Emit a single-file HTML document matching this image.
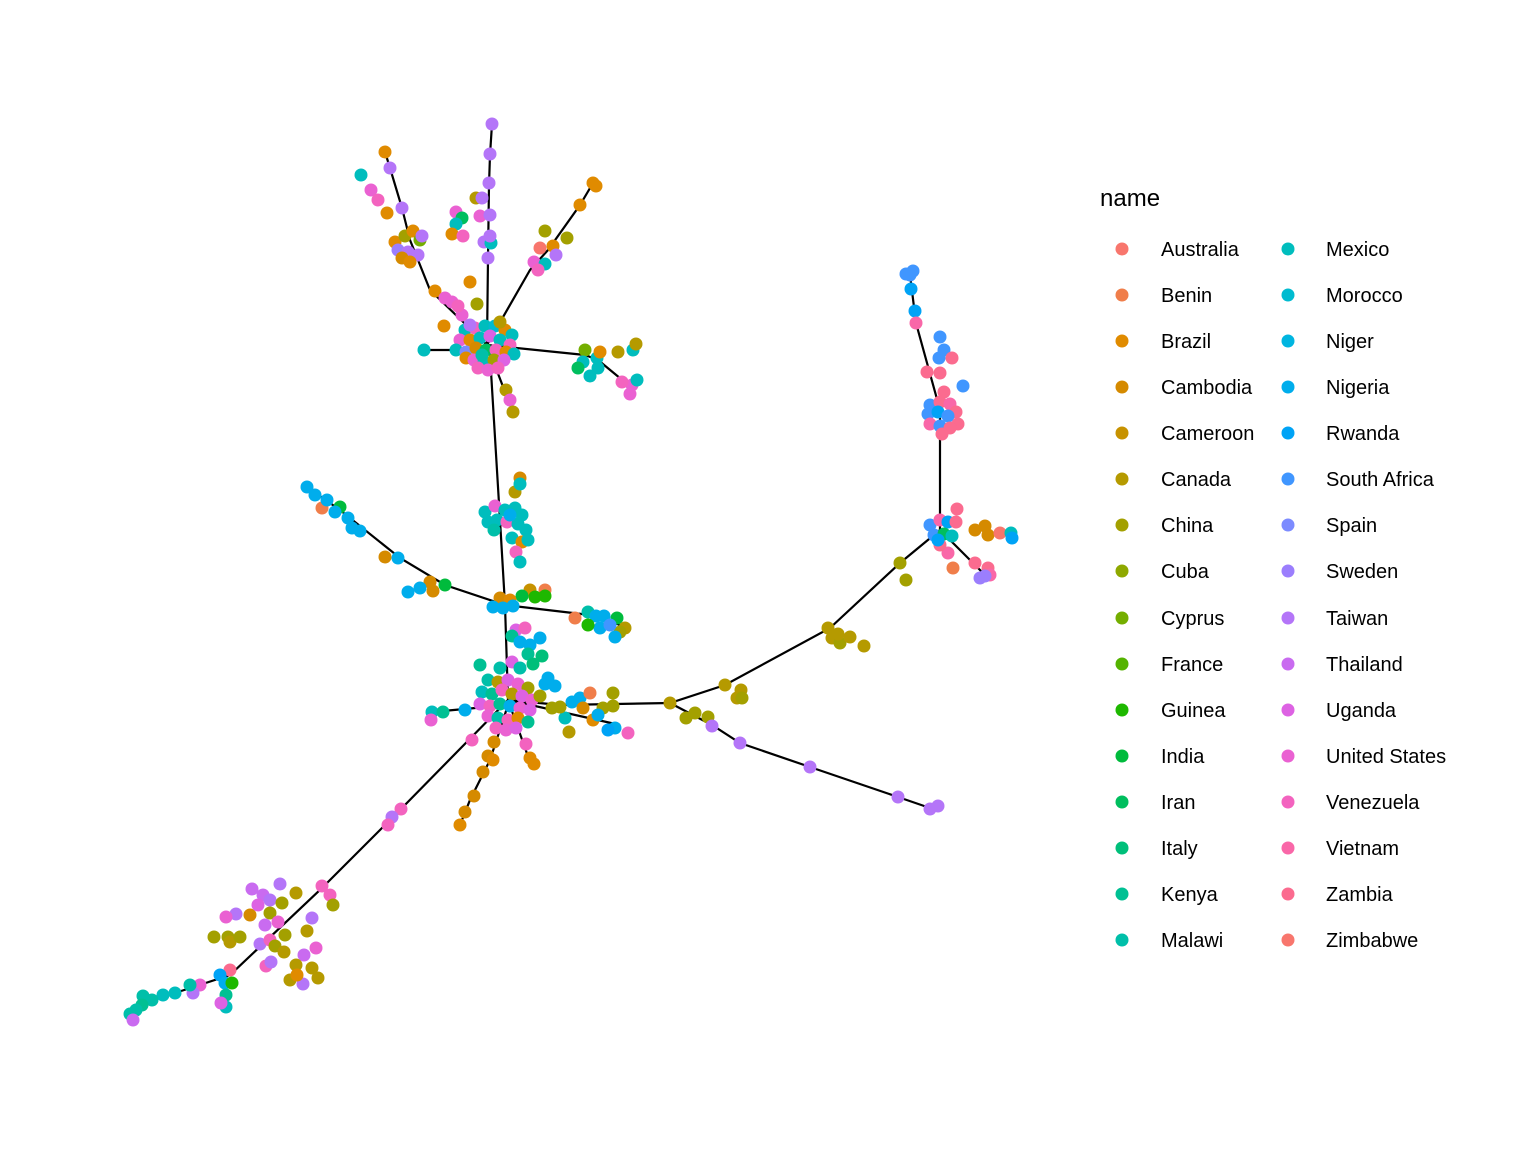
<!DOCTYPE html>
<html><head><meta charset="utf-8"><style>
html,body{margin:0;padding:0;background:#fff;}
svg{display:block;}
text{font-family:"Liberation Sans",Arial,sans-serif;}
.c0{fill:#F8766D}.c1{fill:#F07E4A}.c2{fill:#E08B00}.c3{fill:#D58A00}.c4{fill:#C79200}.c5{fill:#B59A00}.c6{fill:#A3A000}.c7{fill:#8EA800}.c8{fill:#74AE00}.c9{fill:#54B300}.c10{fill:#1EB800}.c11{fill:#00BB3C}.c12{fill:#00BE5E}.c13{fill:#00BF7A}.c14{fill:#00C093}.c15{fill:#00BFA9}.c16{fill:#00BDBD}.c17{fill:#00BBD0}.c18{fill:#00B5E0}.c19{fill:#00ADEC}.c20{fill:#00A3F6}.c21{fill:#4096FF}.c22{fill:#7C8BFF}.c23{fill:#9B7EFD}.c24{fill:#B475F8}.c25{fill:#C96BF0}.c26{fill:#DD62E3}.c27{fill:#EA61D2}.c28{fill:#F363BF}.c29{fill:#F967A8}.c30{fill:#FB6B8F}.c31{fill:#F8766D}
</style></head><body>
<svg width="1536" height="1152" viewBox="0 0 1536 1152" xmlns="http://www.w3.org/2000/svg">
<rect width="1536" height="1152" fill="#fff"/>
<g stroke="#000" stroke-width="2.2" fill="none">
<polyline points="492,124 490,155 489,185 488,258 487,345"/>
<polyline points="385,152 390,168 402,208 410,240 430,290 487,345"/>
<polyline points="593,183 580,205 548,250 530,270 487,345"/>
<polyline points="632,388 598,360 585,355 487,345"/>
<line x1="424" y1="350" x2="487" y2="350"/>
<line x1="487" y1="345" x2="512" y2="410"/>
<polyline points="490,355 500,520 505,605 508,700"/>
<polyline points="307,487 340,510 400,558 445,585 505,605 590,615 620,625"/>
<polyline points="508,700 560,705 670,703 725,685 830,628 900,563 940,530"/>
<polyline points="940,530 940,410 916,323 910,275"/>
<polyline points="940,530 985,575"/>
<polyline points="670,703 712,725 740,743 810,767 898,797 930,808"/>
<polyline points="508,700 400,810 322,888 230,975 175,993 145,1000 130,1020"/>
<line x1="432" y1="712" x2="508" y2="705"/>
<polyline points="508,705 490,760 470,800 460,825"/>
<line x1="508" y1="700" x2="530" y2="762"/>
<line x1="508" y1="700" x2="620" y2="725"/>
</g>
<g>
<circle cx="492" cy="124" r="6.5" class="c24"/><circle cx="490" cy="154" r="6.5" class="c24"/><circle cx="489" cy="183" r="6.5" class="c24"/><circle cx="488" cy="258" r="6.5" class="c24"/>
<circle cx="385" cy="152" r="6.5" class="c2"/><circle cx="390" cy="168" r="6.5" class="c24"/><circle cx="402" cy="208" r="6.5" class="c24"/><circle cx="387" cy="213" r="6.5" class="c2"/><circle cx="361" cy="175" r="6.5" class="c16"/><circle cx="371" cy="190" r="6.5" class="c27"/><circle cx="378" cy="200" r="6.5" class="c28"/>
<circle cx="593" cy="183" r="6.5" class="c2"/><circle cx="596" cy="186" r="6.5" class="c2"/><circle cx="580" cy="205" r="6.5" class="c2"/><circle cx="545" cy="231" r="6.5" class="c6"/><circle cx="567" cy="238" r="6.5" class="c6"/><circle cx="540" cy="248" r="6.5" class="c0"/><circle cx="553" cy="246" r="6.5" class="c2"/><circle cx="556" cy="255" r="6.5" class="c24"/><circle cx="534" cy="262" r="6.5" class="c27"/><circle cx="545" cy="264" r="6.5" class="c16"/><circle cx="538" cy="270" r="6.5" class="c28"/>
<circle cx="424" cy="350" r="6.5" class="c16"/><circle cx="435" cy="291" r="6.5" class="c2"/><circle cx="444" cy="326" r="6.5" class="c2"/><circle cx="445" cy="298" r="6.5" class="c27"/><circle cx="452" cy="302" r="6.5" class="c27"/><circle cx="462" cy="315" r="6.5" class="c27"/><circle cx="458" cy="306" r="6.5" class="c28"/><circle cx="470" cy="282" r="6.5" class="c2"/><circle cx="477" cy="304" r="6.5" class="c6"/><circle cx="506" cy="390" r="6.5" class="c5"/><circle cx="510" cy="400" r="6.5" class="c27"/><circle cx="513" cy="412" r="6.5" class="c5"/>
<circle cx="632" cy="385" r="6.5" class="c27"/><circle cx="622" cy="382" r="6.5" class="c28"/><circle cx="637" cy="380" r="6.5" class="c16"/><circle cx="630" cy="394" r="6.5" class="c27"/><circle cx="618" cy="352" r="6.5" class="c5"/><circle cx="633" cy="350" r="6.5" class="c16"/><circle cx="636" cy="344" r="6.5" class="c5"/><circle cx="585" cy="350" r="6.5" class="c8"/><circle cx="583" cy="362" r="6.5" class="c16"/><circle cx="598" cy="368" r="6.5" class="c16"/><circle cx="597" cy="358" r="6.5" class="c16"/><circle cx="590" cy="376" r="6.5" class="c16"/><circle cx="578" cy="368" r="6.5" class="c12"/><circle cx="600" cy="352" r="6.5" class="c2"/>
<!-- top-left subcluster -->
<circle cx="395" cy="242" r="6.5" class="c2"/><circle cx="405" cy="236" r="6.5" class="c6"/><circle cx="413" cy="231" r="6.5" class="c2"/><circle cx="420" cy="240" r="6.5" class="c8"/><circle cx="398" cy="250" r="6.5" class="c23"/><circle cx="408" cy="252" r="6.5" class="c24"/><circle cx="418" cy="255" r="6.5" class="c24"/><circle cx="402" cy="258" r="6.5" class="c3"/><circle cx="410" cy="262" r="6.5" class="c2"/><circle cx="422" cy="236" r="6.5" class="c24"/>
<!-- upper middle -->
<circle cx="476" cy="198" r="6.5" class="c5"/><circle cx="482" cy="198" r="6.5" class="c24"/><circle cx="456" cy="212" r="6.5" class="c27"/><circle cx="462" cy="218" r="6.5" class="c12"/><circle cx="456" cy="224" r="6.5" class="c16"/><circle cx="480" cy="216" r="6.5" class="c27"/><circle cx="490" cy="215" r="6.5" class="c24"/><circle cx="452" cy="234" r="6.5" class="c2"/><circle cx="463" cy="236" r="6.5" class="c28"/><circle cx="484" cy="242" r="6.5" class="c24"/><circle cx="491" cy="243" r="6.5" class="c16"/><circle cx="490" cy="236" r="6.5" class="c24"/>
<!-- top hub -->
<circle cx="465" cy="330" r="6.5" class="c16"/><circle cx="475" cy="328" r="6.5" class="c28"/><circle cx="485" cy="326" r="6.5" class="c16"/><circle cx="495" cy="326" r="6.5" class="c17"/><circle cx="505" cy="330" r="6.5" class="c2"/><circle cx="512" cy="335" r="6.5" class="c16"/><circle cx="460" cy="340" r="6.5" class="c27"/><circle cx="470" cy="340" r="6.5" class="c2"/><circle cx="480" cy="338" r="6.5" class="c16"/><circle cx="490" cy="336" r="6.5" class="c26"/><circle cx="500" cy="340" r="6.5" class="c16"/><circle cx="510" cy="345" r="6.5" class="c28"/><circle cx="456" cy="350" r="6.5" class="c16"/><circle cx="466" cy="352" r="6.5" class="c22"/><circle cx="476" cy="348" r="6.5" class="c3"/><circle cx="486" cy="350" r="6.5" class="c12"/><circle cx="496" cy="350" r="6.5" class="c28"/><circle cx="506" cy="352" r="6.5" class="c2"/><circle cx="514" cy="354" r="6.5" class="c16"/><circle cx="466" cy="358" r="6.5" class="c2"/><circle cx="474" cy="360" r="6.5" class="c27"/><circle cx="484" cy="362" r="6.5" class="c16"/><circle cx="494" cy="360" r="6.5" class="c6"/><circle cx="504" cy="360" r="6.5" class="c26"/><circle cx="478" cy="368" r="6.5" class="c28"/><circle cx="488" cy="370" r="6.5" class="c27"/><circle cx="498" cy="368" r="6.5" class="c28"/><circle cx="470" cy="325" r="6.5" class="c24"/><circle cx="500" cy="322" r="6.5" class="c5"/><circle cx="482" cy="355" r="6.5" class="c15"/>
<!-- upper-mid cluster -->
<circle cx="520" cy="478" r="6.5" class="c3"/><circle cx="515" cy="492" r="6.5" class="c5"/><circle cx="520" cy="484" r="6.5" class="c16"/><circle cx="485" cy="512" r="6.5" class="c16"/><circle cx="495" cy="506" r="6.5" class="c27"/><circle cx="505" cy="510" r="6.5" class="c16"/><circle cx="515" cy="508" r="6.5" class="c16"/><circle cx="522" cy="515" r="6.5" class="c16"/><circle cx="488" cy="522" r="6.5" class="c16"/><circle cx="497" cy="520" r="6.5" class="c16"/><circle cx="507" cy="522" r="6.5" class="c28"/><circle cx="518" cy="524" r="6.5" class="c16"/><circle cx="526" cy="530" r="6.5" class="c16"/><circle cx="494" cy="530" r="6.5" class="c15"/><circle cx="512" cy="538" r="6.5" class="c16"/><circle cx="522" cy="542" r="6.5" class="c2"/><circle cx="528" cy="540" r="6.5" class="c16"/><circle cx="516" cy="552" r="6.5" class="c28"/><circle cx="520" cy="562" r="6.5" class="c16"/><circle cx="510" cy="515" r="6.5" class="c19"/>
<!-- mid hub branches -->
<circle cx="307" cy="487" r="6.5" class="c19"/><circle cx="315" cy="495" r="6.5" class="c19"/><circle cx="322" cy="508" r="6.5" class="c1"/><circle cx="327" cy="500" r="6.5" class="c19"/><circle cx="340" cy="507" r="6.5" class="c11"/><circle cx="335" cy="512" r="6.5" class="c19"/><circle cx="348" cy="518" r="6.5" class="c19"/><circle cx="352" cy="528" r="6.5" class="c19"/><circle cx="360" cy="531" r="6.5" class="c19"/><circle cx="385" cy="557" r="6.5" class="c3"/><circle cx="398" cy="558" r="6.5" class="c19"/><circle cx="430" cy="582" r="6.5" class="c3"/><circle cx="445" cy="585" r="6.5" class="c11"/><circle cx="433" cy="591" r="6.5" class="c3"/><circle cx="408" cy="592" r="6.5" class="c19"/><circle cx="420" cy="588" r="6.5" class="c19"/>
<circle cx="575" cy="618" r="6.5" class="c1"/><circle cx="588" cy="612" r="6.5" class="c15"/><circle cx="596" cy="616" r="6.5" class="c19"/><circle cx="604" cy="616" r="6.5" class="c19"/><circle cx="617" cy="618" r="6.5" class="c11"/><circle cx="625" cy="628" r="6.5" class="c5"/><circle cx="620" cy="632" r="6.5" class="c6"/><circle cx="615" cy="637" r="6.5" class="c19"/><circle cx="600" cy="628" r="6.5" class="c19"/><circle cx="588" cy="625" r="6.5" class="c10"/><circle cx="610" cy="625" r="6.5" class="c21"/>
<circle cx="530" cy="590" r="6.5" class="c4"/><circle cx="545" cy="590" r="6.5" class="c1"/><circle cx="535" cy="597" r="6.5" class="c10"/><circle cx="545" cy="596" r="6.5" class="c10"/><circle cx="522" cy="596" r="6.5" class="c11"/><circle cx="500" cy="598" r="6.5" class="c3"/><circle cx="510" cy="600" r="6.5" class="c2"/><circle cx="493" cy="607" r="6.5" class="c19"/><circle cx="503" cy="608" r="6.5" class="c19"/><circle cx="513" cy="606" r="6.5" class="c19"/>
<!-- below mid -->
<circle cx="516" cy="630" r="6.5" class="c26"/><circle cx="525" cy="628" r="6.5" class="c28"/><circle cx="512" cy="636" r="6.5" class="c14"/><circle cx="520" cy="642" r="6.5" class="c19"/><circle cx="530" cy="645" r="6.5" class="c19"/><circle cx="540" cy="638" r="6.5" class="c19"/><circle cx="528" cy="654" r="6.5" class="c14"/><circle cx="542" cy="656" r="6.5" class="c13"/><circle cx="512" cy="662" r="6.5" class="c26"/><circle cx="520" cy="668" r="6.5" class="c15"/><circle cx="533" cy="664" r="6.5" class="c13"/><circle cx="480" cy="665" r="6.5" class="c14"/><circle cx="500" cy="668" r="6.5" class="c15"/>
<!-- lower hub -->
<circle cx="488" cy="680" r="6.5" class="c15"/><circle cx="498" cy="682" r="6.5" class="c5"/><circle cx="508" cy="680" r="6.5" class="c26"/><circle cx="518" cy="684" r="6.5" class="c27"/><circle cx="528" cy="688" r="6.5" class="c6"/><circle cx="482" cy="692" r="6.5" class="c16"/><circle cx="492" cy="694" r="6.5" class="c14"/><circle cx="502" cy="690" r="6.5" class="c28"/><circle cx="512" cy="694" r="6.5" class="c5"/><circle cx="522" cy="696" r="6.5" class="c26"/><circle cx="532" cy="700" r="6.5" class="c27"/><circle cx="480" cy="704" r="6.5" class="c26"/><circle cx="490" cy="706" r="6.5" class="c28"/><circle cx="500" cy="704" r="6.5" class="c14"/><circle cx="510" cy="706" r="6.5" class="c19"/><circle cx="520" cy="708" r="6.5" class="c27"/><circle cx="530" cy="710" r="6.5" class="c26"/><circle cx="488" cy="716" r="6.5" class="c27"/><circle cx="498" cy="718" r="6.5" class="c15"/><circle cx="508" cy="720" r="6.5" class="c28"/><circle cx="518" cy="718" r="6.5" class="c2"/><circle cx="528" cy="722" r="6.5" class="c14"/><circle cx="496" cy="728" r="6.5" class="c28"/><circle cx="506" cy="730" r="6.5" class="c27"/><circle cx="516" cy="728" r="6.5" class="c26"/><circle cx="540" cy="696" r="6.5" class="c6"/><circle cx="545" cy="684" r="6.5" class="c19"/><circle cx="555" cy="686" r="6.5" class="c19"/><circle cx="548" cy="678" r="6.5" class="c19"/><circle cx="552" cy="708" r="6.5" class="c6"/><circle cx="572" cy="702" r="6.5" class="c19"/><circle cx="580" cy="698" r="6.5" class="c19"/>
<circle cx="432" cy="712" r="6.5" class="c16"/><circle cx="443" cy="712" r="6.5" class="c14"/><circle cx="431" cy="720" r="6.5" class="c27"/><circle cx="465" cy="710" r="6.5" class="c19"/><circle cx="472" cy="740" r="6.5" class="c28"/><circle cx="494" cy="742" r="6.5" class="c3"/><circle cx="488" cy="756" r="6.5" class="c3"/><circle cx="493" cy="760" r="6.5" class="c2"/><circle cx="483" cy="772" r="6.5" class="c3"/><circle cx="474" cy="796" r="6.5" class="c3"/><circle cx="465" cy="812" r="6.5" class="c3"/><circle cx="460" cy="825" r="6.5" class="c2"/><circle cx="526" cy="744" r="6.5" class="c28"/><circle cx="530" cy="758" r="6.5" class="c2"/><circle cx="534" cy="764" r="6.5" class="c2"/><circle cx="569" cy="732" r="6.5" class="c5"/><circle cx="565" cy="718" r="6.5" class="c16"/><circle cx="560" cy="707" r="6.5" class="c6"/><circle cx="615" cy="728" r="6.5" class="c19"/><circle cx="628" cy="733" r="6.5" class="c28"/><circle cx="608" cy="730" r="6.5" class="c20"/><circle cx="590" cy="693" r="6.5" class="c1"/><circle cx="613" cy="693" r="6.5" class="c6"/><circle cx="613" cy="706" r="6.5" class="c6"/><circle cx="603" cy="708" r="6.5" class="c6"/><circle cx="593" cy="720" r="6.5" class="c2"/><circle cx="583" cy="708" r="6.5" class="c3"/><circle cx="598" cy="715" r="6.5" class="c19"/>
<!-- right branch -->
<circle cx="670" cy="703" r="6.5" class="c5"/><circle cx="725" cy="685" r="6.5" class="c5"/><circle cx="741" cy="690" r="6.5" class="c5"/><circle cx="737" cy="698" r="6.5" class="c5"/><circle cx="742" cy="698" r="6.5" class="c6"/><circle cx="686" cy="718" r="6.5" class="c6"/><circle cx="695" cy="713" r="6.5" class="c6"/><circle cx="708" cy="717" r="6.5" class="c6"/><circle cx="712" cy="726" r="6.5" class="c24"/><circle cx="740" cy="743" r="6.5" class="c24"/><circle cx="810" cy="767" r="6.5" class="c24"/><circle cx="898" cy="797" r="6.5" class="c24"/><circle cx="930" cy="809" r="6.5" class="c24"/><circle cx="938" cy="806" r="6.5" class="c24"/>
<circle cx="828" cy="628" r="6.5" class="c5"/><circle cx="832" cy="638" r="6.5" class="c5"/><circle cx="840" cy="643" r="6.5" class="c6"/><circle cx="838" cy="634" r="6.5" class="c5"/><circle cx="850" cy="637" r="6.5" class="c5"/><circle cx="864" cy="646" r="6.5" class="c5"/><circle cx="900" cy="563" r="6.5" class="c6"/><circle cx="906" cy="580" r="6.5" class="c6"/>
<circle cx="910" cy="275" r="6.5" class="c21"/><circle cx="913" cy="271" r="6.5" class="c21"/><circle cx="906" cy="274" r="6.5" class="c21"/><circle cx="911" cy="289" r="6.5" class="c20"/><circle cx="915" cy="311" r="6.5" class="c20"/><circle cx="916" cy="323" r="6.5" class="c29"/><circle cx="940" cy="337" r="6.5" class="c21"/><circle cx="939" cy="358" r="6.5" class="c21"/><circle cx="944" cy="350" r="6.5" class="c21"/><circle cx="952" cy="358" r="6.5" class="c30"/><circle cx="927" cy="372" r="6.5" class="c30"/><circle cx="963" cy="386" r="6.5" class="c21"/><circle cx="940" cy="373" r="6.5" class="c30"/><circle cx="944" cy="392" r="6.5" class="c30"/>
<circle cx="930" cy="405" r="6.5" class="c21"/><circle cx="940" cy="402" r="6.5" class="c30"/><circle cx="950" cy="404" r="6.5" class="c29"/><circle cx="956" cy="412" r="6.5" class="c30"/><circle cx="928" cy="414" r="6.5" class="c21"/><circle cx="938" cy="412" r="6.5" class="c20"/><circle cx="948" cy="416" r="6.5" class="c21"/><circle cx="958" cy="424" r="6.5" class="c30"/><circle cx="930" cy="424" r="6.5" class="c29"/><circle cx="940" cy="426" r="6.5" class="c21"/><circle cx="950" cy="428" r="6.5" class="c30"/><circle cx="942" cy="434" r="6.5" class="c30"/>
<circle cx="957" cy="509" r="6.5" class="c30"/><circle cx="975" cy="530" r="6.5" class="c3"/><circle cx="985" cy="526" r="6.5" class="c3"/><circle cx="988" cy="535" r="6.5" class="c3"/><circle cx="1000" cy="533" r="6.5" class="c31"/><circle cx="1011" cy="533" r="6.5" class="c16"/><circle cx="1012" cy="538" r="6.5" class="c20"/><circle cx="975" cy="563" r="6.5" class="c30"/><circle cx="988" cy="568" r="6.5" class="c30"/><circle cx="990" cy="575" r="6.5" class="c29"/><circle cx="980" cy="578" r="6.5" class="c23"/><circle cx="985" cy="576" r="6.5" class="c23"/><circle cx="953" cy="568" r="6.5" class="c1"/><circle cx="948" cy="553" r="6.5" class="c29"/><circle cx="940" cy="545" r="6.5" class="c30"/>
<circle cx="930" cy="525" r="6.5" class="c21"/><circle cx="940" cy="520" r="6.5" class="c29"/><circle cx="948" cy="522" r="6.5" class="c20"/><circle cx="934" cy="535" r="6.5" class="c21"/><circle cx="944" cy="534" r="6.5" class="c12"/><circle cx="952" cy="536" r="6.5" class="c16"/><circle cx="938" cy="540" r="6.5" class="c20"/><circle cx="956" cy="522" r="6.5" class="c30"/>
<!-- lower-left branch -->
<circle cx="401" cy="809" r="6.5" class="c28"/><circle cx="392" cy="817" r="6.5" class="c24"/><circle cx="388" cy="825" r="6.5" class="c28"/><circle cx="322" cy="886" r="6.5" class="c28"/><circle cx="330" cy="895" r="6.5" class="c28"/><circle cx="333" cy="905" r="6.5" class="c6"/><circle cx="296" cy="893" r="6.5" class="c5"/><circle cx="280" cy="884" r="6.5" class="c24"/><circle cx="252" cy="889" r="6.5" class="c25"/><circle cx="263" cy="895" r="6.5" class="c25"/><circle cx="270" cy="900" r="6.5" class="c24"/><circle cx="282" cy="903" r="6.5" class="c6"/><circle cx="236" cy="914" r="6.5" class="c24"/><circle cx="226" cy="917" r="6.5" class="c27"/><circle cx="250" cy="915" r="6.5" class="c3"/><circle cx="270" cy="913" r="6.5" class="c6"/><circle cx="312" cy="918" r="6.5" class="c24"/><circle cx="214" cy="937" r="6.5" class="c6"/><circle cx="228" cy="937" r="6.5" class="c6"/><circle cx="230" cy="942" r="6.5" class="c5"/><circle cx="240" cy="937" r="6.5" class="c6"/><circle cx="260" cy="944" r="6.5" class="c24"/><circle cx="270" cy="940" r="6.5" class="c28"/><circle cx="307" cy="931" r="6.5" class="c5"/><circle cx="316" cy="948" r="6.5" class="c27"/><circle cx="304" cy="955" r="6.5" class="c25"/><circle cx="275" cy="946" r="6.5" class="c6"/><circle cx="266" cy="966" r="6.5" class="c28"/><circle cx="271" cy="962" r="6.5" class="c24"/><circle cx="284" cy="952" r="6.5" class="c5"/><circle cx="296" cy="965" r="6.5" class="c5"/><circle cx="312" cy="968" r="6.5" class="c5"/><circle cx="318" cy="978" r="6.5" class="c5"/><circle cx="290" cy="980" r="6.5" class="c5"/><circle cx="303" cy="984" r="6.5" class="c24"/><circle cx="297" cy="975" r="6.5" class="c2"/><circle cx="265" cy="925" r="6.5" class="c25"/><circle cx="258" cy="905" r="6.5" class="c26"/><circle cx="278" cy="922" r="6.5" class="c27"/><circle cx="285" cy="935" r="6.5" class="c6"/>
<circle cx="230" cy="970" r="6.5" class="c30"/><circle cx="220" cy="975" r="6.5" class="c20"/><circle cx="225" cy="983" r="6.5" class="c19"/><circle cx="232" cy="983" r="6.5" class="c10"/><circle cx="226" cy="995" r="6.5" class="c14"/><circle cx="226" cy="1007" r="6.5" class="c16"/><circle cx="221" cy="1003" r="6.5" class="c26"/><circle cx="200" cy="985" r="6.5" class="c27"/><circle cx="193" cy="993" r="6.5" class="c24"/><circle cx="190" cy="985" r="6.5" class="c15"/><circle cx="175" cy="993" r="6.5" class="c16"/><circle cx="163" cy="995" r="6.5" class="c16"/><circle cx="152" cy="1000" r="6.5" class="c15"/><circle cx="143" cy="996" r="6.5" class="c15"/><circle cx="142" cy="1005" r="6.5" class="c14"/><circle cx="136" cy="1010" r="6.5" class="c15"/><circle cx="130" cy="1014" r="6.5" class="c15"/><circle cx="133" cy="1020" r="6.5" class="c25"/>
</g>
<text x="1100" y="206" font-size="24" fill="#000">name</text>
<g font-size="20" fill="#000">
<circle cx="1122" cy="249" r="6.5" class="c0"/><text x="1161" y="256">Australia</text>
<circle cx="1122" cy="295" r="6.5" class="c1"/><text x="1161" y="302">Benin</text>
<circle cx="1122" cy="341" r="6.5" class="c2"/><text x="1161" y="348">Brazil</text>
<circle cx="1122" cy="387" r="6.5" class="c3"/><text x="1161" y="394">Cambodia</text>
<circle cx="1122" cy="433" r="6.5" class="c4"/><text x="1161" y="440">Cameroon</text>
<circle cx="1122" cy="479" r="6.5" class="c5"/><text x="1161" y="486">Canada</text>
<circle cx="1122" cy="525" r="6.5" class="c6"/><text x="1161" y="532">China</text>
<circle cx="1122" cy="571" r="6.5" class="c7"/><text x="1161" y="578">Cuba</text>
<circle cx="1122" cy="618" r="6.5" class="c8"/><text x="1161" y="625">Cyprus</text>
<circle cx="1122" cy="664" r="6.5" class="c9"/><text x="1161" y="671">France</text>
<circle cx="1122" cy="710" r="6.5" class="c10"/><text x="1161" y="717">Guinea</text>
<circle cx="1122" cy="756" r="6.5" class="c11"/><text x="1161" y="763">India</text>
<circle cx="1122" cy="802" r="6.5" class="c12"/><text x="1161" y="809">Iran</text>
<circle cx="1122" cy="848" r="6.5" class="c13"/><text x="1161" y="855">Italy</text>
<circle cx="1122" cy="894" r="6.5" class="c14"/><text x="1161" y="901">Kenya</text>
<circle cx="1122" cy="940" r="6.5" class="c15"/><text x="1161" y="947">Malawi</text>
<circle cx="1288" cy="249" r="6.5" class="c16"/><text x="1326" y="256">Mexico</text>
<circle cx="1288" cy="295" r="6.5" class="c17"/><text x="1326" y="302">Morocco</text>
<circle cx="1288" cy="341" r="6.5" class="c18"/><text x="1326" y="348">Niger</text>
<circle cx="1288" cy="387" r="6.5" class="c19"/><text x="1326" y="394">Nigeria</text>
<circle cx="1288" cy="433" r="6.5" class="c20"/><text x="1326" y="440">Rwanda</text>
<circle cx="1288" cy="479" r="6.5" class="c21"/><text x="1326" y="486">South Africa</text>
<circle cx="1288" cy="525" r="6.5" class="c22"/><text x="1326" y="532">Spain</text>
<circle cx="1288" cy="571" r="6.5" class="c23"/><text x="1326" y="578">Sweden</text>
<circle cx="1288" cy="618" r="6.5" class="c24"/><text x="1326" y="625">Taiwan</text>
<circle cx="1288" cy="664" r="6.5" class="c25"/><text x="1326" y="671">Thailand</text>
<circle cx="1288" cy="710" r="6.5" class="c26"/><text x="1326" y="717">Uganda</text>
<circle cx="1288" cy="756" r="6.5" class="c27"/><text x="1326" y="763">United States</text>
<circle cx="1288" cy="802" r="6.5" class="c28"/><text x="1326" y="809">Venezuela</text>
<circle cx="1288" cy="848" r="6.5" class="c29"/><text x="1326" y="855">Vietnam</text>
<circle cx="1288" cy="894" r="6.5" class="c30"/><text x="1326" y="901">Zambia</text>
<circle cx="1288" cy="940" r="6.5" class="c31"/><text x="1326" y="947">Zimbabwe</text>
</g>
</svg>
</body></html>
